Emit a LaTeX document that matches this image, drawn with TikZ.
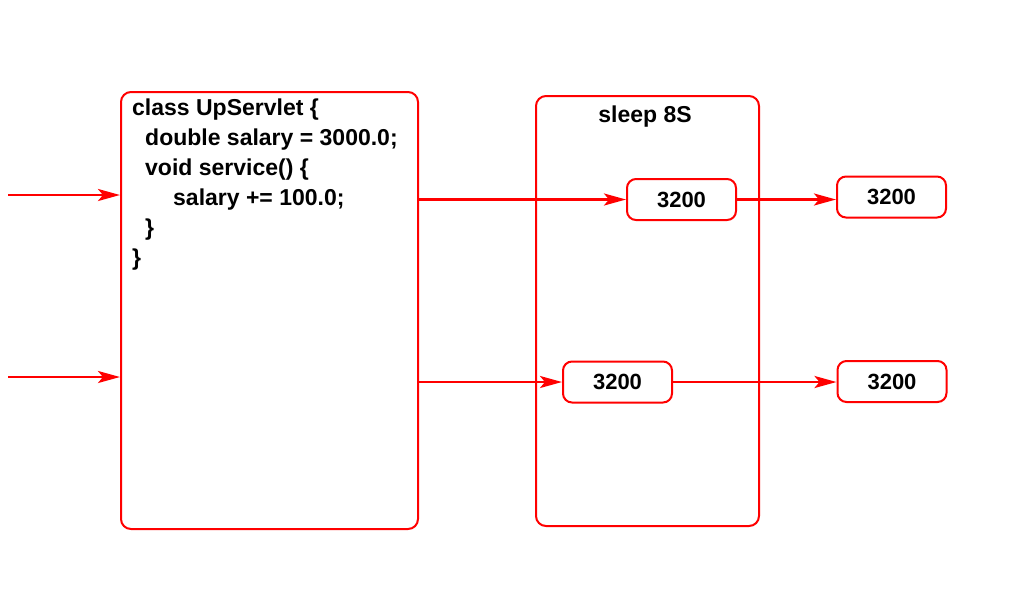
\documentclass[tikz,border=0pt]{standalone}
\usepackage{fontspec}
\setmainfont{Liberation Sans}
\usetikzlibrary{arrows.meta}
\tikzset{
  frame/.style={draw=red, line width=2pt, rounded corners=10pt},
  valbox/.style={draw=red, line width=2pt, rounded corners=9pt, minimum width=109pt, minimum height=41pt, inner sep=0pt, font=\fontsize{22}{26}\selectfont\bfseries},
  flow/.style={draw=red, line width=2.6pt, -{Stealth[length=22pt,width=12pt,inset=5pt]}},
  lbl/.style={font=\fontsize{23}{27}\selectfont\bfseries, inner sep=0pt},
}
\begin{document}
\begin{tikzpicture}[x=1pt,y=-1pt]
\useasboundingbox (0,0) rectangle (1024,590);
\node[frame, minimum width=297pt, minimum height=437pt, anchor=north west] (cls) at (120,91) {};
\node[frame, minimum width=223pt, minimum height=430pt, anchor=north west] (sleep) at (535,95) {};
\node[lbl] (sl) at (645,117) {sleep 8S};
\node[lbl, anchor=north west, align=left, font=\fontsize{23}{30}\selectfont\bfseries] (code) at (132,99) {class UpServlet \{\\\hspace*{13pt}double salary = 3000.0;\\\hspace*{13pt}void service() \{\\\hspace*{41pt}salary += 100.0;\\\hspace*{13pt}\}\\\}};
\node[valbox] (a) at (681.5,199.5) {3200};
\node[valbox] (b) at (891.5,197) {3200};
\node[valbox] (c) at (617.5,382) {3200};
\node[valbox] (d) at (892,381.5) {3200};
\coordinate (s1) at (8,195);
\coordinate (s2) at (8,377);
\draw[flow] (s1) -- (cls.west |- s1);
\draw[flow] (s2) -- (cls.west |- s2);
\draw[flow] (cls.east |- a.west) -- (a.west);
\draw[flow] (a.east) -- (b.west |- a.east);
\draw[flow] (cls.east |- c.west) -- (c.west);
\draw[flow] (c.east) -- (d.west |- c.east);
\end{tikzpicture}
\end{document}
